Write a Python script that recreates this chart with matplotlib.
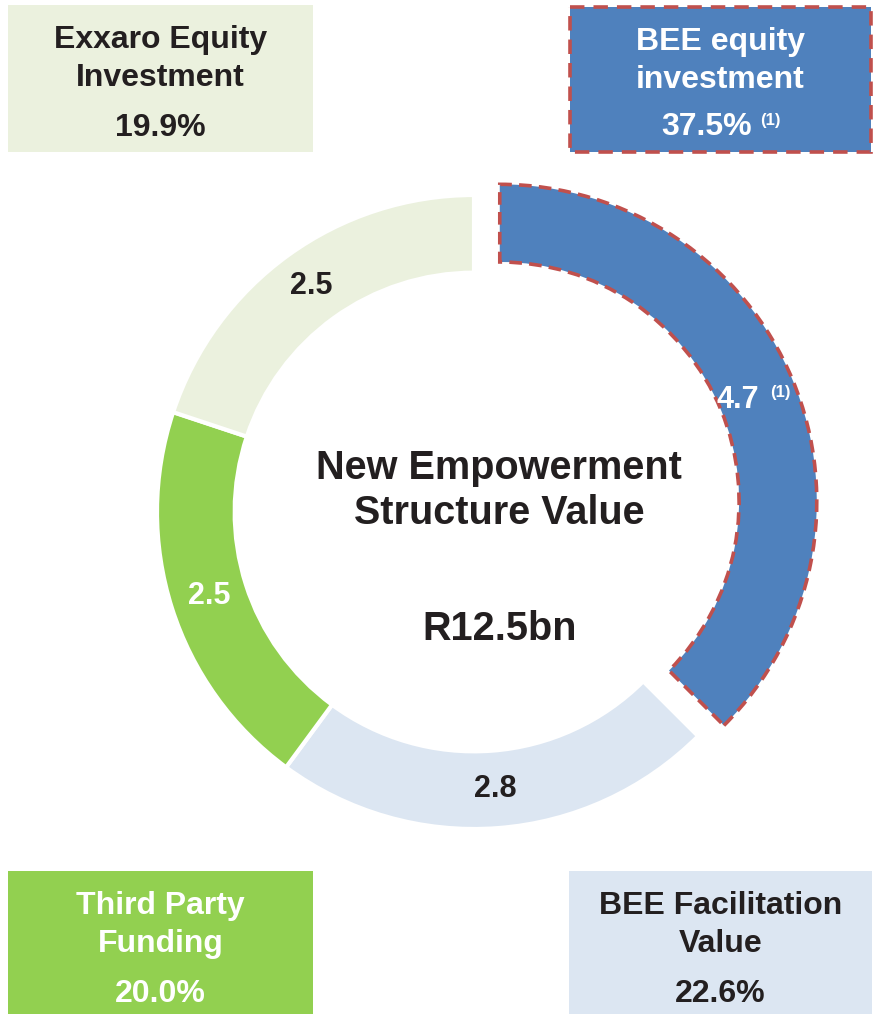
import numpy as np
import matplotlib.pyplot as plt
from matplotlib.patches import Rectangle

plt.rcParams['font.family'] = ['Liberation Sans', 'DejaVu Sans']
plt.rcParams['font.weight'] = 'bold'

# segment data (clockwise from the top)
segments = ['BEE equity\ninvestment', 'BEE Facilitation\nValue', 'Third Party\nFunding', 'Exxaro Equity\nInvestment']
values_bn = ['4.7', '2.8', '2.5', '2.5']
shares = [37.5, 22.6, 20.0, 19.9]
colors = ['#4F81BD', '#DCE6F2', '#92D050', '#EBF1DE']
value_colors = ['white', '#231F20', 'white', '#231F20']
explode = [0.088, 0, 0, 0]
total_label = 'R12.5bn'
title = 'New Empowerment\nStructure Value'

DARK = '#231F20'
RED = '#C0504D'
W, H = 875, 1014

fig = plt.figure(figsize=(W / 100, H / 100), dpi=100)

# background axes in pixel coords for the corner boxes
bg = fig.add_axes([0, 0, 1, 1])
bg.set_xlim(0, W)
bg.set_ylim(H, 0)
bg.axis('off')

# donut
cx, cy, R = 474, 512, 317
half = 1.2 * R
ax = fig.add_axes([(cx - half) / W, (H - cy - half) / H, 2 * half / W, 2 * half / H])
wedges, _ = ax.pie(shares, colors=colors, startangle=90, counterclock=False, radius=1,
                   explode=explode,
                   wedgeprops=dict(width=0.245, edgecolor='white', linewidth=3))
ax.set_xlim(-1.2, 1.2)
ax.set_ylim(-1.2, 1.2)
ax.set_aspect('equal')
ax.axis('off')
wedges[0].set_edgecolor(RED)
wedges[0].set_linestyle((0, (3.5, 2)))
wedges[0].set_linewidth(2.6)
for w in wedges:
    w.set_clip_on(False)

# value labels on the ring
for w, val, col, ex in zip(wedges, values_bn, value_colors, explode):
    ang = np.deg2rad((w.theta1 + w.theta2) / 2)
    r = 0.8775 + ex
    x, y = r * np.cos(ang), r * np.sin(ang)
    if ex > 0:
        ax.text(x - 0.06, y - 0.015, val, ha='center', va='center', fontsize=22, color=col)
        ax.annotate('(1)', xy=(x - 0.06, y - 0.015), xytext=(31, 5), textcoords='offset points',
                    ha='center', va='center', fontsize=12, color=col)
    else:
        ax.text(x, y, val, ha='center', va='center', fontsize=22, color=col)

ax.text(0.08, 0.067, title, ha='center', va='center', fontsize=28.5, color=DARK, linespacing=1.24)
ax.text(0.08, -0.37, total_label, ha='center', va='center', fontsize=28.5, color=DARK)

# corner boxes
boxes = [
    (8, 5, 305, 147, 3),
    (570, 7, 301, 145, 0),
    (8, 871, 305, 143, 2),
    (569, 871, 303, 143, 1),
]
for x0, y0, bw, bh, i in boxes:
    if i == 0:
        bg.add_patch(Rectangle((x0, y0), bw, bh, facecolor=colors[i], edgecolor=RED,
                               linewidth=2.6, linestyle=(0, (4, 2.5))))
    else:
        bg.add_patch(Rectangle((x0, y0), bw, bh, facecolor=colors[i], edgecolor='none'))
    xc = x0 + bw / 2
    bg.text(xc, y0 + 54, segments[i], ha='center', va='center', fontsize=23,
            color=value_colors[i], linespacing=1.33)
    pct = f'{shares[i]:.1f}%'
    if i == 0:
        bg.text(xc - 14, y0 + 120, pct, ha='center', va='center', fontsize=23, color=value_colors[i])
        bg.annotate('(1)', xy=(xc - 14, y0 + 120), xytext=(46, 4.5), textcoords='offset points',
                    ha='center', va='center', fontsize=12, color=value_colors[i])
    else:
        bg.text(xc, y0 + 123, pct, ha='center', va='center', fontsize=23, color=value_colors[i])

fig.savefig('out.png', dpi=100)
